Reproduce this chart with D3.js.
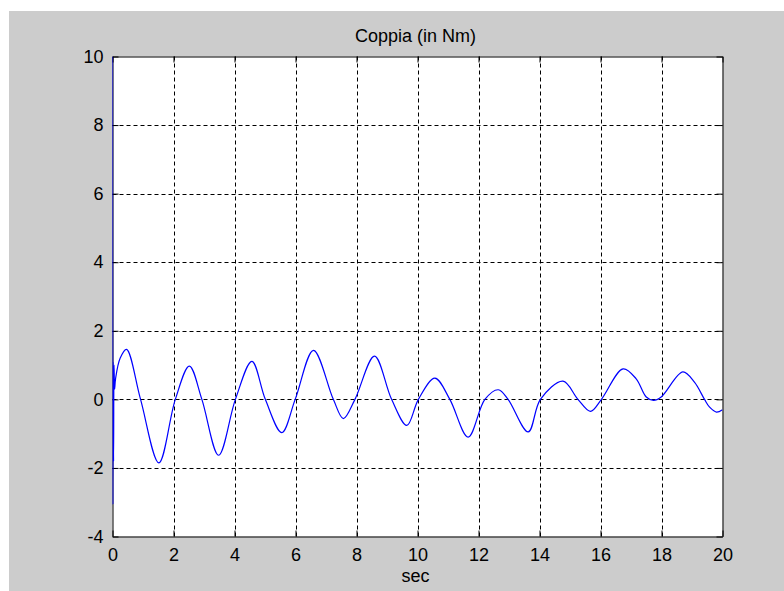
<!DOCTYPE html>
<html>
<head>
<meta charset="utf-8">
<script src="https://cdn.jsdelivr.net/npm/d3@7"></script>
<style>
  body { margin: 0; background: #fff; }
  text { font-family: "Liberation Sans", Arial, sans-serif; font-size: 18px; fill: #000; }
</style>
</head>
<body>
<div id="chart"></div>
<script>
// torque curve (peaks, troughs, zero crossings)
const time = [0, 0.01, 0.02, 0.035, 0.05, 0.07, 0.1, 0.25, 0.46, 0.92, 1.52, 2.06, 2.52, 2.93,
    3.48, 4.03, 4.57, 5.01, 5.55, 5.99, 6.59, 7.24, 7.57, 7.95, 8.59, 9.15, 9.65, 10.03,
    10.57, 11.06, 11.66, 12.21, 12.65, 12.97, 13.63, 14.03, 14.77, 15.26, 15.67, 16.03,
    16.74, 17.17, 17.5, 17.74, 17.99, 18.7, 19.08, 19.41, 19.57, 19.8, 20];
const torque = [10, -3.05, 1.1, -1.8, 1.0, 0.3, 0.6, 1.2, 1.46, 0, -1.85, 0, 0.97, 0,
    -1.63, 0, 1.11, 0, -0.97, 0, 1.43, 0, -0.56, 0, 1.26, 0, -0.76, 0,
    0.62, 0, -1.1, 0, 0.28, 0, -0.95, 0, 0.53, 0, -0.35, 0,
    0.89, 0.6, 0.07, -0.03, 0.07, 0.8, 0.5, 0, -0.22, -0.37, -0.3];

const xTicks = [0, 2, 4, 6, 8, 10, 12, 14, 16, 18, 20];
const yTicks = [-4, -2, 0, 2, 4, 6, 8, 10];

const title = "Coppia (in Nm)";
const xLabel = "sec";

const width = 784;
const height = 591;
const plotLeft = 112.5, plotRight = 722.5, plotTop = 56.5, plotBottom = 536.5;

const svg = d3.select("#chart").append("svg")
    .attr("width", width)
    .attr("height", height);

// figure background
svg.append("rect")
    .attr("x", 9).attr("y", 11)
    .attr("width", width - 9).attr("height", height - 11)
    .attr("fill", "#cccccc");

svg.append("rect")
    .attr("x", plotLeft).attr("y", plotTop)
    .attr("width", plotRight - plotLeft).attr("height", plotBottom - plotTop)
    .attr("fill", "#fff");

svg.append("clipPath").attr("id", "plotclip")
    .append("rect")
    .attr("x", plotLeft).attr("y", plotTop)
    .attr("width", plotRight - plotLeft).attr("height", plotBottom - plotTop);

const x = d3.scaleLinear().domain([0, 20]).range([plotLeft, plotRight]);
const y = d3.scaleLinear().domain([-4, 10]).range([plotBottom, plotTop]);

// dashed grid
svg.append("g").selectAll("line")
    .data(xTicks.slice(1, -1))
    .enter().append("line")
    .attr("x1", d => Math.round(x(d)) + 0.5).attr("x2", d => Math.round(x(d)) + 0.5)
    .attr("y1", plotTop).attr("y2", plotBottom)
    .attr("stroke", "#000")
    .attr("stroke-dasharray", "4,3");

svg.append("g").selectAll("line")
    .data(yTicks.slice(1, -1))
    .enter().append("line")
    .attr("x1", plotLeft).attr("x2", plotRight)
    .attr("y1", d => Math.round(y(d)) + 0.5).attr("y2", d => Math.round(y(d)) + 0.5)
    .attr("stroke", "#000")
    .attr("stroke-dasharray", "4,3");

// axes with inward ticks, plain hyphen for negatives
const fmt = d => String(d);
svg.append("g")
    .attr("transform", "translate(0," + plotBottom + ")")
    .call(d3.axisBottom(x).tickValues(xTicks).tickFormat(fmt).tickSizeInner(-6).tickSizeOuter(0).tickPadding(12));
svg.append("g")
    .attr("transform", "translate(" + plotLeft + ",0)")
    .call(d3.axisLeft(y).tickValues(yTicks).tickFormat(fmt).tickSizeInner(-6).tickSizeOuter(0).tickPadding(9));
svg.append("g")
    .attr("transform", "translate(0," + plotTop + ")")
    .call(d3.axisTop(x).tickValues(xTicks).tickSizeInner(-6).tickSizeOuter(0).tickFormat(""));
svg.append("g")
    .attr("transform", "translate(" + plotRight + ",0)")
    .call(d3.axisRight(y).tickValues(yTicks).tickSizeInner(-6).tickSizeOuter(0).tickFormat(""));

svg.selectAll(".domain").attr("stroke", "#000");
svg.selectAll(".tick line").attr("stroke", "#000");
svg.selectAll(".tick text")
    .style("font-family", "'Liberation Sans', Arial, sans-serif")
    .style("font-size", "18px")
    .attr("fill", "#000");

// the signal
const points = time.map((t, i) => [t, torque[i]]);
svg.append("path")
    .datum(points)
    .attr("clip-path", "url(#plotclip)")
    .attr("fill", "none")
    .attr("stroke", "#0000ff")
    .attr("stroke-width", 1.2)
    .attr("d", d3.line()
        .x(d => x(d[0]))
        .y(d => y(d[1]))
        .curve(d3.curveCatmullRom.alpha(0.5)));

svg.append("text")
    .attr("x", (plotLeft + plotRight) / 2 - 2)
    .attr("y", 42)
    .attr("text-anchor", "middle")
    .text(title);

svg.append("text")
    .attr("x", (plotLeft + plotRight) / 2 - 2)
    .attr("y", 582)
    .attr("text-anchor", "middle")
    .text(xLabel);
</script>
</body>
</html>
